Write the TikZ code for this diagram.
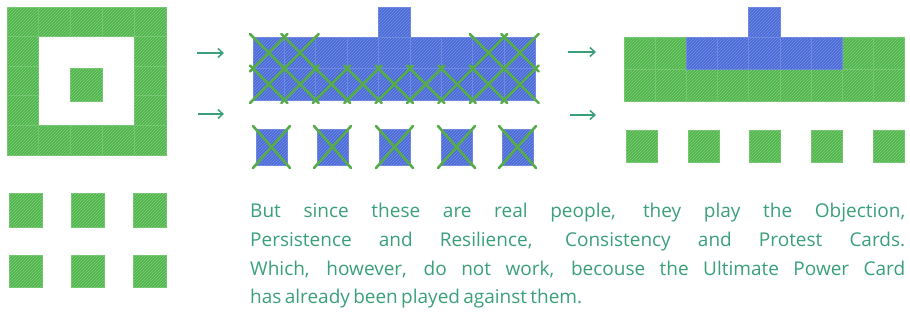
\documentclass[tikz,border=0pt]{standalone}
\usepackage{fontspec}
\setmainfont{Open Sans}
\usetikzlibrary{arrows.meta,patterns}

\definecolor{cardgreen}{RGB}{78,182,72}
\definecolor{cardblue}{RGB}{74,106,216}
\definecolor{crossgreen}{RGB}{86,172,72}
\definecolor{inkteal}{RGB}{58,160,122}

\tikzset{
	greencell/.style={fill=cardgreen, draw=cardgreen!80!white, line width=0.7pt,
		postaction={pattern=north east lines, pattern color=cardgreen!70!white}},
	bluecell/.style={fill=cardblue, draw=cardblue!80!white, line width=0.7pt,
		postaction={pattern=north east lines, pattern color=cardblue!75!white}},
	crossline/.style={draw=crossgreen, line width=2.6pt, line cap=round},
	flowarrow/.style={-{Straight Barb[length=5pt,width=9pt]}, draw=inkteal, line width=1.5pt},
	handtext/.style={text=inkteal, anchor=base west, inner sep=0pt,
		font=\fontsize{19}{22}\selectfont}
}

\begin{document}
\begin{tikzpicture}[x=1pt,y=-1pt]
	\useasboundingbox (0,0) rectangle (910,327);
	
	% left: ring of cards and centre card
	\foreach \i in {0,...,4} {
		\draw[greencell] (7+31.8*\i,7) rectangle ++(31.8,29.6);
		\draw[greencell] (7+31.8*\i,125.4) rectangle ++(31.8,29.6);
	}
	\foreach \j in {1,2,3} {
		\draw[greencell] (7,7+29.6*\j) rectangle ++(31.8,29.6);
		\draw[greencell] (134.2,7+29.6*\j) rectangle ++(31.8,29.6);
	}
	\draw[greencell] (70,68) rectangle (102,101);
	
	% left: loose cards
	\foreach \x in {9,71,133} {
		\draw[greencell] (\x,193) rectangle ++(33,34);
		\draw[greencell] (\x,255) rectangle ++(33,32);
	}
	
	% arrows into the middle
	\coordinate (a1s) at (197,53);
	\coordinate (a1e) at (224,53);
	\coordinate (a2s) at (198,114);
	\coordinate (a2e) at (224,114);
	\draw[flowarrow] (a1s) -- (a1e);
	\draw[flowarrow] (a2s) -- (a2e);
	
	% middle: blue block
	\foreach \i in {0,...,8} {
		\draw[bluecell] (253+31.4*\i,37) rectangle ++(31.4,31.5);
		\draw[bluecell] (253+31.4*\i,68.5) rectangle ++(31.4,31.5);
	}
	\draw[bluecell] (378.6,7) rectangle ++(31.4,30);
	
	% crossed out cells
	\foreach \i in {0,1,7,8} {
		\draw[crossline] (250+31.4*\i,34) -- (287.4+31.4*\i,71.5);
		\draw[crossline] (250+31.4*\i,71.5) -- (287.4+31.4*\i,34);
	}
	\foreach \i in {0,...,8} {
		\draw[crossline] (250+31.4*\i,65.5) -- (287.4+31.4*\i,103);
		\draw[crossline] (250+31.4*\i,103) -- (287.4+31.4*\i,65.5);
	}
	
	% middle: loose blue cards, crossed out
	\foreach \x in {256,317,379,441,502} {
		\draw[bluecell] (\x,129) rectangle ++(31,36);
		\draw[crossline] (\x-3,126) -- (\x+34,168);
		\draw[crossline] (\x-3,168) -- (\x+34,126);
	}
	
	% arrows into the right
	\coordinate (a3s) at (568,52);
	\coordinate (a3e) at (596,52);
	\coordinate (a4s) at (570,115);
	\coordinate (a4e) at (596,115);
	\draw[flowarrow] (a3s) -- (a3e);
	\draw[flowarrow] (a4s) -- (a4e);
	
	% right: green block with blue middle
	\foreach \i in {0,...,8} {
		\draw[greencell] (624+31.2*\i,69) rectangle ++(31.2,32);
	}
	\foreach \i in {0,1,7,8} {
		\draw[greencell] (624+31.2*\i,37) rectangle ++(31.2,32);
	}
	\foreach \i in {2,...,6} {
		\draw[bluecell] (624+31.2*\i,37) rectangle ++(31.2,32);
	}
	\draw[bluecell] (748.8,7) rectangle ++(31.2,30);
	
	% right: loose green cards
	\foreach \x in {626,688,749,811,873} {
		\draw[greencell] (\x,130) rectangle ++(31,32);
	}
	
	% text
	\node[handtext] (line1) at (250,217) {\makebox[655pt][s]{But since these are real people, they play the Objection,}};
	\node[handtext] (line2) at (250,246) {\makebox[655pt][s]{Persistence and Resilience, Consistency and Protest Cards.}};
	\node[handtext] (line3) at (250,275) {\makebox[655pt][s]{Which, however, do not work, becouse the Ultimate Power Card}};
	\node[handtext] (line4) at (250,303) {\makebox[323pt][s]{has already been played against them.}};
\end{tikzpicture}
\end{document}
